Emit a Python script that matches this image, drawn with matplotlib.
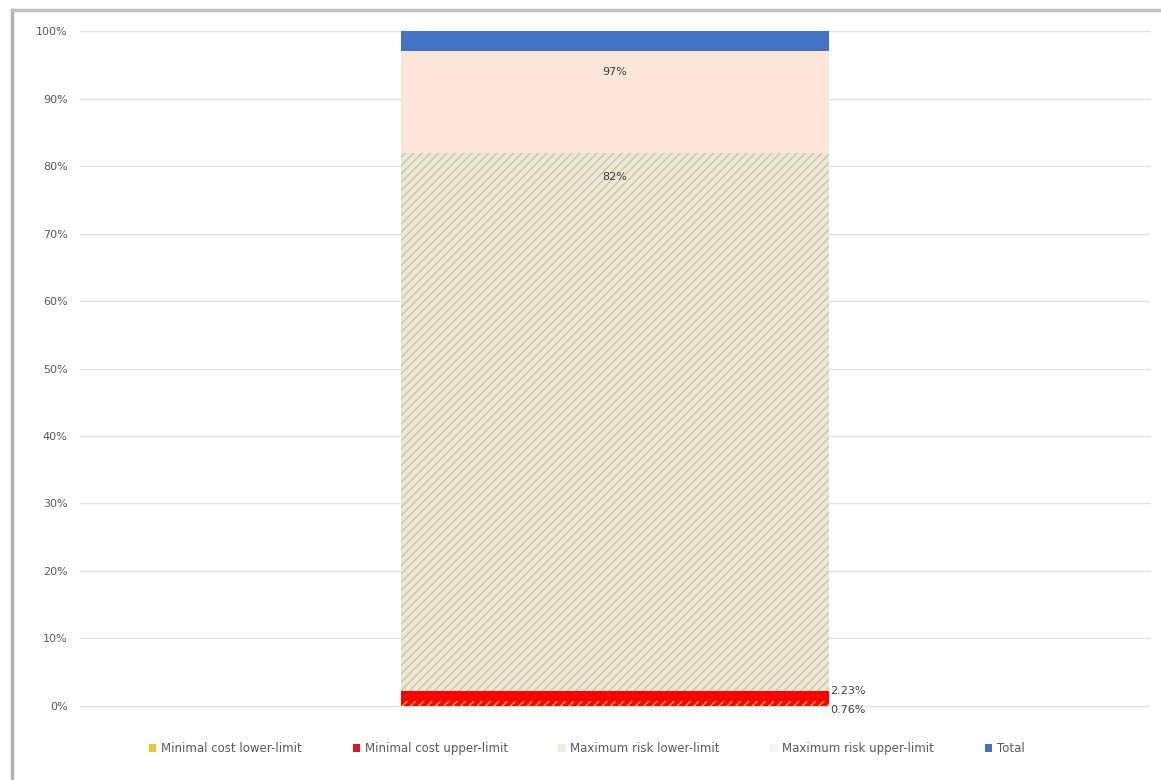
import matplotlib.pyplot as plt
from matplotlib.patches import Patch
from matplotlib.lines import Line2D

# series (cumulative share of total, %)
series = ["Minimal cost lower-limit", "Minimal cost upper-limit",
          "Maximum risk lower-limit", "Maximum risk upper-limit", "Total"]
values = [0.76, 2.23, 82, 97, 100]
labels = ["0.76%", "2.23%", "82%", "97%", ""]
yticks = [0, 10, 20, 30, 40, 50, 60, 70, 80, 90, 100]

colors = ["#ffc000", "#ff0000", "#ebe8d6", "#fde5d9", "#4472c4"]
hatch_colors = ["#ff0000", None, "#cdc7a4", None, None]
legend_colors = ["#f2c12e", "#e3101e", "#e9eedb", "#fdf3ea", "#4472c4"]

plt.rcParams['font.family'] = ['DejaVu Sans']

fig = plt.figure(figsize=(11.61, 7.8), dpi=100)
ax = fig.add_axes([0.069, 0.095, 0.921, 0.865])

# overlapping bars, largest first so every segment stays visible
for i in reversed(range(len(values))):
    if i == 0:
        ax.bar(0, values[i], width=1.0, color="#ff0000", edgecolor="#ffc000",
               hatch="////", linewidth=0, zorder=3)
    elif hatch_colors[i]:
        ax.bar(0, values[i], width=1.0, color=colors[i], edgecolor=hatch_colors[i],
               hatch="////", linewidth=0, zorder=3)
    else:
        ax.bar(0, values[i], width=1.0, color=colors[i], linewidth=0, zorder=3)

# data labels
ax.annotate(labels[3], (0, values[3]), xytext=(0, -11), textcoords="offset points",
            ha="center", va="top", fontsize=8, color="#404040", zorder=5)
ax.annotate(labels[2], (0, values[2]), xytext=(0, -14), textcoords="offset points",
            ha="center", va="top", fontsize=8, color="#404040", zorder=5)
ax.annotate(labels[1], (0.5, values[1]), xytext=(1, 0), textcoords="offset points",
            ha="left", va="center", fontsize=8, color="#404040", zorder=5)
ax.annotate(labels[0], (0.5, values[0]), xytext=(1, -3), textcoords="offset points",
            ha="left", va="top", fontsize=8, color="#404040", zorder=5)

ax.set_xlim(-1.25, 1.25)
ax.set_ylim(0, 100)
ax.set_yticks(yticks)
ax.set_yticklabels([f"{t}%" for t in yticks], fontsize=8, color="#595959")
ax.set_xticks([])
ax.tick_params(axis="y", length=0, pad=9)
ax.grid(axis="y", color="#e3e3e3", linewidth=1, zorder=0)
for gl in ax.get_ygridlines():
    gl.set_clip_on(False)
for s in ax.spines.values():
    s.set_visible(False)

handles = [Patch(facecolor=c, edgecolor="none") for c in legend_colors]
ax.legend(handles, series, loc="upper center", bbox_to_anchor=(0.474, -0.038),
          ncol=5, frameon=False, fontsize=8.5, handlelength=0.6, handleheight=0.6,
          handletextpad=0.4, columnspacing=4.3, labelcolor="#595959")

# frame edges of the original screenshot
fig.add_artist(Line2D([12 / 1161, 12 / 1161], [0, 1 - 10 / 780], color="#b0b0b0", lw=2.5))
fig.add_artist(Line2D([12 / 1161, 1], [1 - 10 / 780, 1 - 10 / 780], color="#c0c0c0", lw=2.5))

fig.savefig("out.png", dpi=100)
